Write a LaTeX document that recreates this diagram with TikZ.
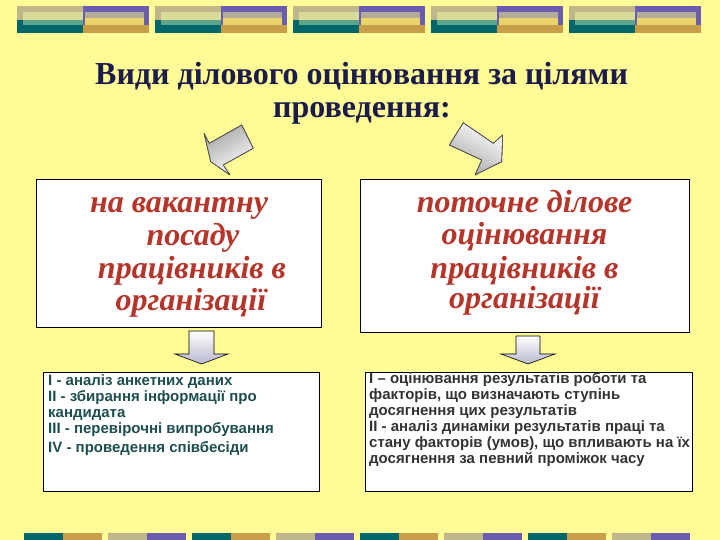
\documentclass[tikz,border=0pt]{standalone}
\usepackage{fontspec}
\setmainfont{Liberation Serif}
\setsansfont{Liberation Sans}
\definecolor{bg}{HTML}{FFFB96}
\definecolor{tanc}{HTML}{BFB78A}
\definecolor{lightc}{HTML}{D8DC98}
\definecolor{tealc}{HTML}{00666A}
\definecolor{greenc}{HTML}{5FA58A}
\definecolor{purc}{HTML}{6A5CB0}
\definecolor{grayc}{HTML}{B4AA9A}
\definecolor{yelc}{HTML}{E8D468}
\definecolor{goldc}{HTML}{C89E48}
\definecolor{titlec}{HTML}{1C1C4C}
\definecolor{redc}{HTML}{B5352A}
\definecolor{tealtext}{HTML}{1E4E50}
\definecolor{graytext}{HTML}{333333}
\definecolor{lav}{HTML}{B8B8D0}
\tikzset{
  titletext/.style={font=\fontsize{32}{34}\selectfont\bfseries, text=titlec, inner sep=0pt},
  bigtext/.style={font=\fontsize{32}{34}\selectfont\bfseries\itshape, text=redc, inner sep=0pt},
  bigbox/.style={draw=black, line width=0.8pt, fill=white, inner sep=0pt, anchor=north west},
  smalltext/.style={font=\sffamily\bfseries\fontsize{15}{16}\selectfont, inner sep=0pt, anchor=base west},
  bigarrow/.style={draw=black!70, line width=0.6pt, line join=round},
  smallarrow/.style={draw=black, line width=0.6pt, top color=white, bottom color=lav}
}
\begin{document}
\begin{tikzpicture}[x=1pt,y=-1pt]
\useasboundingbox (0,0) rectangle (720,540);
\fill[bg] (0,0) rectangle (720,540);
% top decoration
\foreach \s in {17,155,293,431,569}{
  \fill[tanc] (\s,6) rectangle (\s+66,20);
  \fill[lightc] (\s+6,12) rectangle (\s+66,20);
  \fill[tealc] (\s,20) rectangle (\s+66,33);
  \fill[greenc] (\s+6,20) rectangle (\s+66,25);
  \fill[purc] (\s+66,6) rectangle (\s+132,25);
  \fill[grayc] (\s+68,12) rectangle (\s+127,18);
  \fill[yelc] (\s+68,18) rectangle (\s+127,25);
  \fill[goldc] (\s+66,25) rectangle (\s+132,33);
}
% bottom decoration
\foreach \s in {24,192,360,528}{
  \fill[tealc] (\s,533) rectangle (\s+39,540);
  \fill[goldc] (\s+39,533) rectangle (\s+78,540);
}
\foreach \s in {108,276,444,612}{
  \fill[tanc] (\s,533) rectangle (\s+39,540);
  \fill[purc] (\s+39,533) rectangle (\s+78,540);
}
% title
\node[titletext, anchor=base west] (t1) at (95,85) {Види ділового оцінювання за цілями};
\node[titletext, anchor=base] (t2) at (362,118) {проведення:};
% big arrows
\path[bigarrow, left color=gray!70, right color=white, shading angle=30]
  (241.7,125) -- (253.3,148.3) -- (223.3,165) -- (230,175) -- (210.7,161.7)
  -- (204,133.3) -- (209.3,143.3) -- cycle;
\draw[bigarrow] (241.7,125) -- (253.3,148.3) -- (223.3,165) -- (230,175) -- (210.7,161.7)
  -- (204,133.3) -- (209.3,143.3) -- cycle;
\path[bigarrow, left color=white, right color=gray!70, shading angle=-30]
  (463.3,122.7) -- (449.3,145) -- (481.7,160) -- (475,175) -- (501.7,161.7)
  -- (502.7,135) -- (493.3,143.3) -- cycle;
\draw[bigarrow] (463.3,122.7) -- (449.3,145) -- (481.7,160) -- (475,175) -- (501.7,161.7)
  -- (502.7,135) -- (493.3,143.3) -- cycle;
% big boxes
\node[bigbox, minimum width=285pt, minimum height=148pt] (b1) at (36,179) {};
\node[bigbox, minimum width=329pt, minimum height=153pt] (b2) at (360,179) {};
\node[bigtext, anchor=base] (l1) at (179,212) {на вакантну};
\node[bigtext, anchor=base] (l2) at (193,245) {посаду};
\node[bigtext, anchor=base] (l3) at (192,278) {працівників в};
\node[bigtext, anchor=base] (l4) at (191,310) {організації};
\node[bigtext, anchor=base] (r1) at (524.5,212) {поточне ділове};
\node[bigtext, anchor=base] (r2) at (524.5,244) {оцінювання};
\node[bigtext, anchor=base] (r3) at (524.5,278) {працівників в};
\node[bigtext, anchor=base] (r4) at (524.5,308) {організації};
% small arrows
\draw[smallarrow] (189,331) -- (214,331) -- (214,354) -- (228,354) -- (201.5,364)
  -- (175,354) -- (189,354) -- cycle;
\draw[smallarrow] (516,336) -- (540,336) -- (540,354) -- (555,354) -- (528,364)
  -- (501,354) -- (516,354) -- cycle;
% lower boxes
\node[bigbox, minimum width=276pt, minimum height=119pt] (c1) at (43,372) {};
\node[bigbox, minimum width=327pt, minimum height=119pt] (c2) at (365,372) {};
\begin{scope}[every node/.style={smalltext, text=tealtext}]
\node (a1) at (48,385) {I - аналіз анкетних даних};
\node (a2) at (48,401) {II - збирання інформації про};
\node (a3) at (48,417) {кандидата};
\node (a4) at (48,433) {III - перевірочні випробування};
\node (a5) at (48,452) {IV - проведення співбесіди};
\end{scope}
\begin{scope}[every node/.style={smalltext, text=graytext}]
\node (d1) at (369,383) {І – оцінювання результатів роботи та};
\node (d2) at (369,399) {факторів, що визначають ступінь};
\node (d3) at (369,415) {досягнення цих результатів};
\node (d4) at (369,431) {ІІ - аналіз динаміки результатів праці та};
\node (d5) at (369,447) {стану факторів (умов), що впливають на їх};
\node (d6) at (369,463) {досягнення за певний проміжок часу};
\end{scope}
\end{tikzpicture}
\end{document}
